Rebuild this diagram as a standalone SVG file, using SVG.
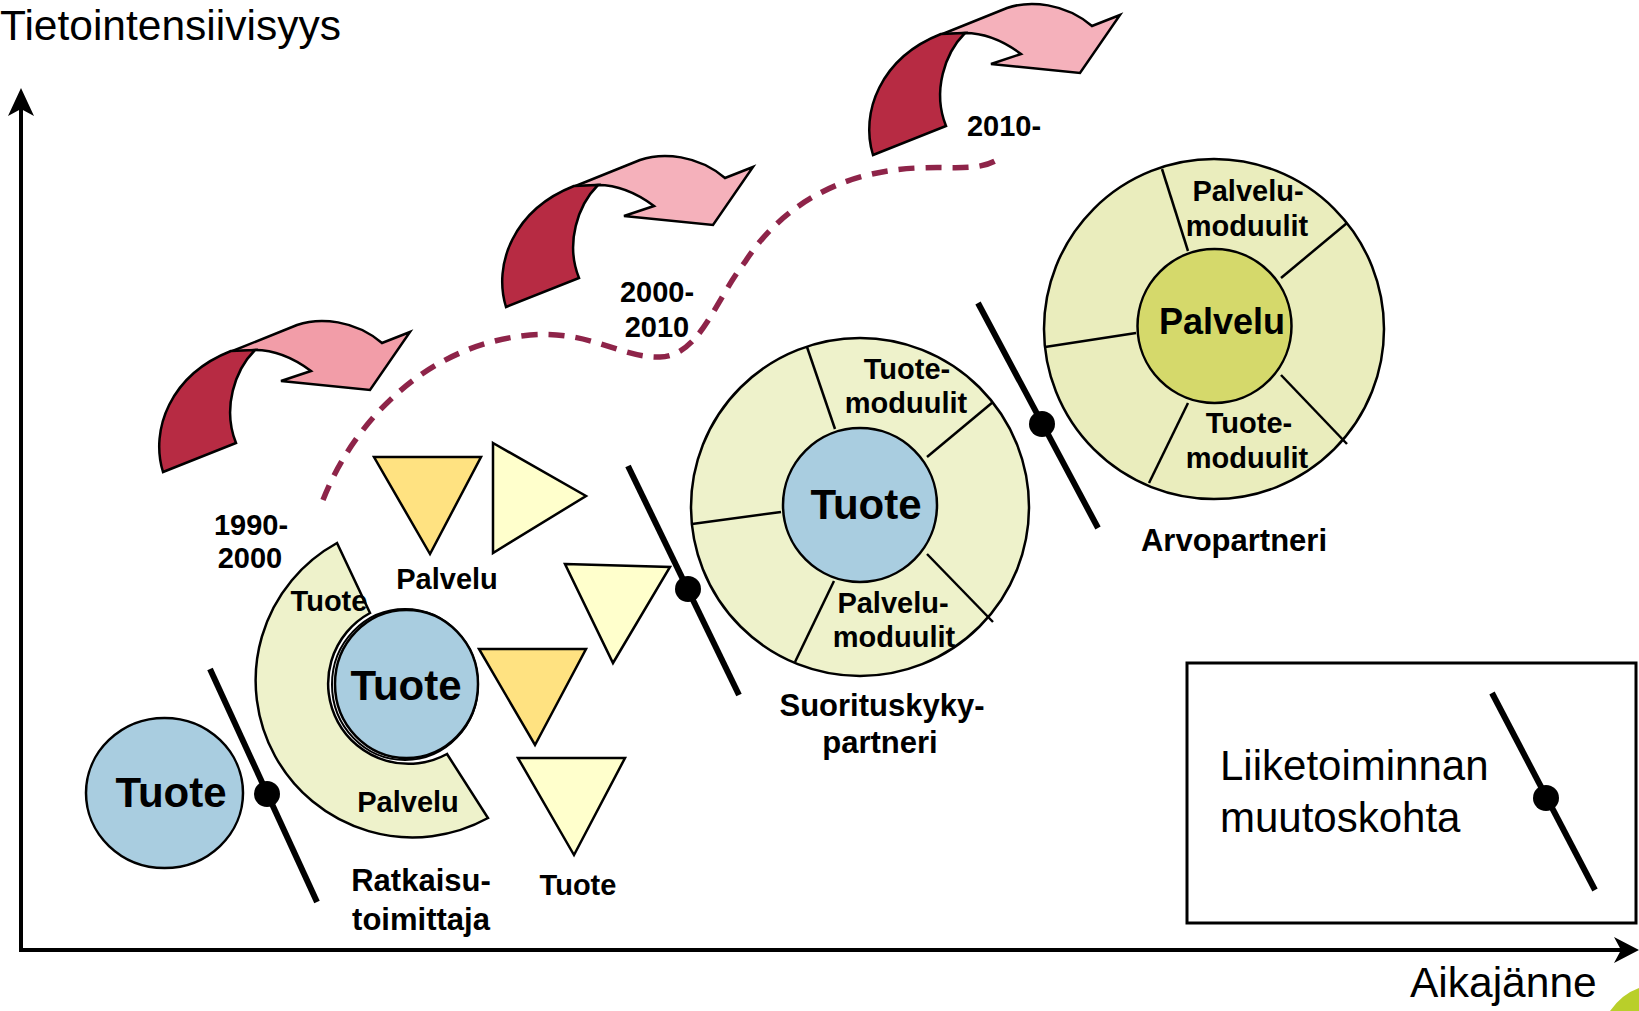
<svg xmlns="http://www.w3.org/2000/svg" xmlns:xlink="http://www.w3.org/1999/xlink" width="1639" height="1011" viewBox="0 0 1639 1011">
<style>
text{font-family:"Liberation Sans",Arial,sans-serif;fill:#000}
.b{font-weight:bold}
.lbl{font-size:29px;font-weight:bold;text-anchor:middle}
.role{font-size:31px;font-weight:bold;text-anchor:middle}
.big{font-size:42px;font-weight:bold;text-anchor:middle}
.ax{font-size:42.5px}
.leg{font-size:42px}
.blue{fill:#A9CDE0;stroke:#000;stroke-width:2.5}
.ring{fill:#EEF2CB;stroke:#000;stroke-width:2.5}
.ring2{fill:#EAEDBD;stroke:#000;stroke-width:2.5}
.div{stroke:#000;stroke-width:2.5;fill:none}
.gold{fill:#FFE281;stroke:#000;stroke-width:2.5;stroke-linejoin:miter}
.pale{fill:#FFFFCC;stroke:#000;stroke-width:2.5;stroke-linejoin:miter}
.chg{stroke:#000;stroke-width:6;fill:none}
.dark{fill:#B72B43;stroke:#000;stroke-width:2.5;stroke-linejoin:miter}
.pink1{fill:#F29DA8;stroke:#000;stroke-width:2.5;stroke-linejoin:miter}
.pink2{fill:#F5B1BB;stroke:#000;stroke-width:2.5;stroke-linejoin:miter}
.axis{stroke:#000;stroke-width:4;fill:none}
</style>
<defs>
<path id="pinkShape" d="M90,52 L157,25 C180,17 215,20 242,43 L270,32 L230,90 L141,81 L171,71 C155,59 136,50 115,50 Z"/>
<path id="darkShape" d="M23,172 C10,130 30,75 91,51 L115,50 C95,70 82,108 96,143 Z"/>
</defs>

<g id="axes">
<line class="axis" x1="21" y1="952" x2="21" y2="100"/>
<polygon points="21,88 34,116 21,109 8,116" fill="#000"/>
<line class="axis" x1="19" y1="950" x2="1628" y2="950"/>
<polygon points="1639,950 1614,937 1621,950 1614,963" fill="#000"/>
<text class="ax" x="0" y="40">Tietointensiivisyys</text>
<text class="ax" x="1410" y="997">Aikajänne</text>
</g>

<g id="logo-corner">
<path d="M1610,1011 Q1622,994 1639,988 L1639,1011 Z" fill="#B9CF2A"/>
</g>

<g id="connectors">
<path d="M323,500 C350,430 420,345 530,335 C590,330 620,358 660,357 C700,356 715,300 745,262 C775,215 830,172 917,168 C955,166 980,172 1000,158" fill="none" stroke="#8E2449" stroke-width="5.5" stroke-dasharray="16,11"/>
</g>

<g id="arrow-1990">
<use xlink:href="#pinkShape" class="pink1" transform="translate(140,300)"/>
<use xlink:href="#darkShape" class="dark" transform="translate(140,300)"/>
</g>
<g id="arrow-2000">
<use xlink:href="#pinkShape" class="pink2" transform="translate(483,135)"/>
<use xlink:href="#darkShape" class="dark" transform="translate(483,135)"/>
</g>
<g id="arrow-2010">
<use xlink:href="#pinkShape" class="pink2" transform="translate(850,-17)"/>
<use xlink:href="#darkShape" class="dark" transform="translate(850,-17)"/>
</g>

<g id="label-1990">
<text class="lbl" x="251" y="535">1990-</text>
<text class="lbl" x="250" y="568">2000</text>
</g>
<g id="label-2000">
<text class="lbl" x="657" y="302">2000-</text>
<text class="lbl" x="657" y="337">2010</text>
</g>
<g id="label-2010">
<text class="lbl" x="1004" y="136">2010-</text>
</g>

<g id="tuote-start">
<ellipse class="blue" cx="164.5" cy="793" rx="78.5" ry="75"/>
<text class="big" x="171" y="807">Tuote</text>
</g>

<g id="change-1">
<line class="chg" x1="210" y1="669" x2="317" y2="902"/>
<circle cx="267" cy="794" r="13" fill="#000"/>
</g>

<g id="ratkaisutoimittaja">
<path class="ring" d="M337,543 A156,156 0 1 0 488,818 L447,754 A80,80 0 1 1 370,613 Z"/>
<ellipse cx="405" cy="684.5" rx="73" ry="75.5" fill="#fff" stroke="#000" stroke-width="2"/>
<ellipse class="blue" cx="406.5" cy="684" rx="71.5" ry="74"/>
<text class="big" x="406" y="700">Tuote</text>
<text class="lbl" x="329" y="611">Tuote</text>
<text class="lbl" x="408" y="812">Palvelu</text>
<text class="role" x="421" y="891">Ratkaisu-</text>
<text class="role" x="421" y="930">toimittaja</text>
</g>

<g id="triangles">
<polygon class="gold" points="374,457 481,457 430,554"/>
<polygon class="pale" points="493,443 586,496 493,553"/>
<polygon class="pale" points="565,564 670,567 613,663"/>
<polygon class="gold" points="479,649 586,649 535,745"/>
<polygon class="pale" points="518,758 625,758 574,855"/>
<text class="lbl" x="447" y="589">Palvelu</text>
<text class="lbl" x="578" y="895">Tuote</text>
</g>

<g id="change-2">
<line class="chg" x1="628" y1="466" x2="739" y2="695"/>
<circle cx="688" cy="589" r="13" fill="#000"/>
</g>

<g id="suorituskykypartneri">
<circle class="ring" cx="860" cy="507" r="169"/>
<line class="div" x1="807" y1="347" x2="835" y2="429"/>
<line class="div" x1="993" y1="402" x2="927" y2="457"/>
<line class="div" x1="692" y1="524" x2="781" y2="512"/>
<line class="div" x1="927" y1="554" x2="993" y2="622"/>
<line class="div" x1="834" y1="581" x2="795" y2="662"/>
<circle class="blue" cx="860" cy="505" r="77"/>
<text class="big" x="866" y="519">Tuote</text>
<text class="lbl" x="907" y="379">Tuote-</text>
<text class="lbl" x="906" y="413">moduulit</text>
<text class="lbl" x="893" y="613">Palvelu-</text>
<text class="lbl" x="894" y="647">moduulit</text>
<text class="role" x="882" y="716">Suorituskyky-</text>
<text class="role" x="880" y="753">partneri</text>
</g>

<g id="change-3">
<line class="chg" x1="978" y1="303" x2="1098" y2="528"/>
<circle cx="1042" cy="424" r="13" fill="#000"/>
</g>

<g id="arvopartneri">
<circle class="ring2" cx="1214" cy="329" r="170"/>
<line class="div" x1="1162" y1="169" x2="1188" y2="251"/>
<line class="div" x1="1347" y1="223" x2="1281" y2="278"/>
<line class="div" x1="1045" y1="347" x2="1136" y2="333"/>
<line class="div" x1="1281" y1="375" x2="1347" y2="444"/>
<line class="div" x1="1188" y1="403" x2="1149" y2="483"/>
<circle cx="1214.5" cy="326" r="77" fill="#D5D96B" stroke="#000" stroke-width="2.5"/>
<text class="b" x="1222" y="334" font-size="36" text-anchor="middle">Palvelu</text>
<text class="lbl" x="1248" y="201">Palvelu-</text>
<text class="lbl" x="1247" y="236">moduulit</text>
<text class="lbl" x="1249" y="433">Tuote-</text>
<text class="lbl" x="1247" y="468">moduulit</text>
<text class="role" x="1234" y="551">Arvopartneri</text>
</g>

<g id="legend">
<rect x="1187" y="663" width="449" height="260" fill="#fff" stroke="#000" stroke-width="3"/>
<text class="leg" x="1220" y="780">Liiketoiminnan</text>
<text class="leg" x="1220" y="832">muutoskohta</text>
<line class="chg" x1="1492" y1="693" x2="1595" y2="890"/>
<circle cx="1546" cy="798" r="13" fill="#000"/>
</g>
</svg>
